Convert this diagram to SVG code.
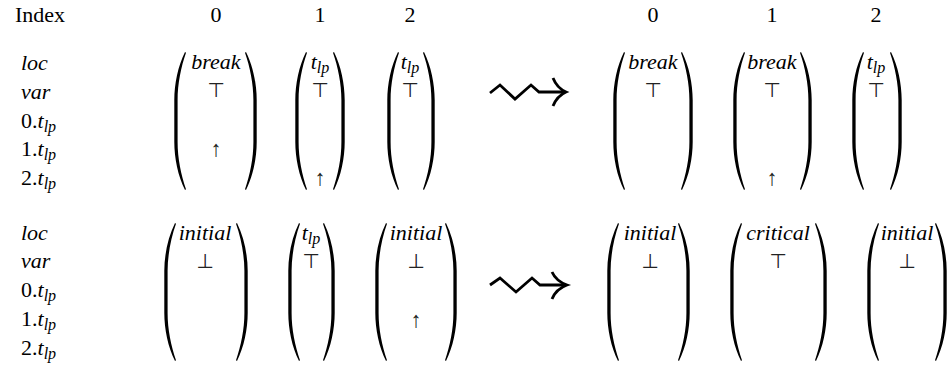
<svg xmlns="http://www.w3.org/2000/svg" width="948" height="369" viewBox="0 0 948 369" font-family="Times New Roman, Liberation Serif, serif" font-size="22">
<style>
text{font-family:"Times New Roman","Liberation Serif",serif}
.i{font-style:italic}
.m{text-anchor:middle}
.s{font-size:16px;font-style:italic}
.sym{font-family:"DejaVu Sans",sans-serif;font-size:20px;fill:#222;text-anchor:middle}
.ar{fill:#222;text-anchor:middle}
</style>
<defs>
<path id="lp" d="M11,0 C4,14 0.3,32 0.3,48 L0.3,90 C0.3,106 4,124 11,138 L12,137.2 C7,123 3.6,106 3.6,90 L3.6,48 C3.6,32 7,15 12,0.8 Z" fill="#000"/>
</defs>

<g id="labels">
<text x="15" y="22" font-family="Times New Roman">Index</text>
<text x="216" y="22" font-family="Times New Roman" class="m">0</text>
<text x="320" y="22" font-family="Times New Roman" class="m">1</text>
<text x="410" y="22" font-family="Times New Roman" class="m">2</text>
<text x="653" y="22" font-family="Times New Roman" class="m">0</text>
<text x="772" y="22" font-family="Times New Roman" class="m">1</text>
<text x="876" y="22" font-family="Times New Roman" class="m">2</text>
</g>

<g id="rowlabels-top">
<text x="21" y="70" font-family="Times New Roman" class="i">loc</text>
<text x="21" y="99" font-family="Times New Roman" class="i">var</text>
<text x="21" y="128" font-family="Times New Roman">0.<tspan class="i">t</tspan><tspan class="s" dy="4">lp</tspan></text>
<text x="21" y="156" font-family="Times New Roman">1.<tspan class="i">t</tspan><tspan class="s" dy="4">lp</tspan></text>
<text x="21" y="185" font-family="Times New Roman">2.<tspan class="i">t</tspan><tspan class="s" dy="4">lp</tspan></text>
</g>
<g id="rowlabels-bottom">
<text x="21" y="240" font-family="Times New Roman" class="i">loc</text>
<text x="21" y="268" font-family="Times New Roman" class="i">var</text>
<text x="21" y="297" font-family="Times New Roman">0.<tspan class="i">t</tspan><tspan class="s" dy="4">lp</tspan></text>
<text x="21" y="326" font-family="Times New Roman">1.<tspan class="i">t</tspan><tspan class="s" dy="4">lp</tspan></text>
<text x="21" y="355" font-family="Times New Roman">2.<tspan class="i">t</tspan><tspan class="s" dy="4">lp</tspan></text>
</g>

<g id="top-before-0">
<use href="#lp" x="174" y="52"/>
<use href="#lp" transform="translate(257,52) scale(-1,1)"/>
<text x="216" y="69" font-family="Times New Roman" class="i m">break</text>
<text x="216" y="97" class="sym">⊤</text>
<text x="216" y="156" font-family="Times New Roman" class="ar">↑</text>
</g>
<g id="top-before-1">
<use href="#lp" x="295" y="52"/>
<use href="#lp" transform="translate(345,52) scale(-1,1)"/>
<text x="320" y="69" font-family="Times New Roman" class="i m">t<tspan class="s" dy="4">lp</tspan></text>
<text x="320" y="97" class="sym">⊤</text>
<text x="320" y="185" font-family="Times New Roman" class="ar">↑</text>
</g>
<g id="top-before-2">
<use href="#lp" x="387" y="52"/>
<use href="#lp" transform="translate(435,52) scale(-1,1)"/>
<text x="410" y="69" font-family="Times New Roman" class="i m">t<tspan class="s" dy="4">lp</tspan></text>
<text x="410" y="97" class="sym">⊤</text>
</g>
<g id="top-after-0">
<use href="#lp" x="613" y="52"/>
<use href="#lp" transform="translate(693,52) scale(-1,1)"/>
<text x="653" y="69" font-family="Times New Roman" class="i m">break</text>
<text x="653" y="97" class="sym">⊤</text>
</g>
<g id="top-after-1">
<use href="#lp" x="733" y="52"/>
<use href="#lp" transform="translate(812,52) scale(-1,1)"/>
<text x="772" y="69" font-family="Times New Roman" class="i m">break</text>
<text x="772" y="97" class="sym">⊤</text>
<text x="772" y="185" font-family="Times New Roman" class="ar">↑</text>
</g>
<g id="top-after-2">
<use href="#lp" x="852" y="52"/>
<use href="#lp" transform="translate(902,52) scale(-1,1)"/>
<text x="876" y="69" font-family="Times New Roman" class="i m">t<tspan class="s" dy="4">lp</tspan></text>
<text x="876" y="97" class="sym">⊤</text>
</g>

<g id="bottom-before-0">
<use href="#lp" x="164" y="223"/>
<use href="#lp" transform="translate(248,223) scale(-1,1)"/>
<text x="205" y="240" font-family="Times New Roman" class="i m">initial</text>
<text x="205" y="268" class="sym">⊥</text>
</g>
<g id="bottom-before-1">
<use href="#lp" x="288" y="223"/>
<use href="#lp" transform="translate(335,223) scale(-1,1)"/>
<text x="311" y="240" font-family="Times New Roman" class="i m">t<tspan class="s" dy="4">lp</tspan></text>
<text x="311" y="268" class="sym">⊤</text>
</g>
<g id="bottom-before-2">
<use href="#lp" x="375" y="223"/>
<use href="#lp" transform="translate(457,223) scale(-1,1)"/>
<text x="416" y="240" font-family="Times New Roman" class="i m">initial</text>
<text x="416" y="268" class="sym">⊥</text>
<text x="416" y="327" font-family="Times New Roman" class="ar">↑</text>
</g>
<g id="bottom-after-0">
<use href="#lp" x="607" y="223"/>
<use href="#lp" transform="translate(690,223) scale(-1,1)"/>
<text x="650" y="240" font-family="Times New Roman" class="i m">initial</text>
<text x="650" y="268" class="sym">⊥</text>
</g>
<g id="bottom-after-1">
<use href="#lp" x="730" y="223"/>
<use href="#lp" transform="translate(827,223) scale(-1,1)"/>
<text x="778" y="240" font-family="Times New Roman" class="i m">critical</text>
<text x="778" y="268" class="sym">⊤</text>
</g>
<g id="bottom-after-2">
<use href="#lp" x="867" y="223"/>
<use href="#lp" transform="translate(947,223) scale(-1,1)"/>
<text x="907" y="240" font-family="Times New Roman" class="i m">initial</text>
<text x="907" y="268" class="sym">⊥</text>
</g>

<g id="connectors" fill="none" stroke="#000" stroke-width="2.8" stroke-linejoin="miter">
<path d="M490,93 L500,85 L515,99 L531,85 L539,92 L565,92"/>
<path d="M553,78 Q557,88 566,92 Q557,96 553,106"/>
<path d="M490,285 L500,278 L516,292 L532,278 L540,285 L566,285"/>
<path d="M552,272 Q556,281 567,285 Q556,289 552,299"/>
</g>
</svg>
